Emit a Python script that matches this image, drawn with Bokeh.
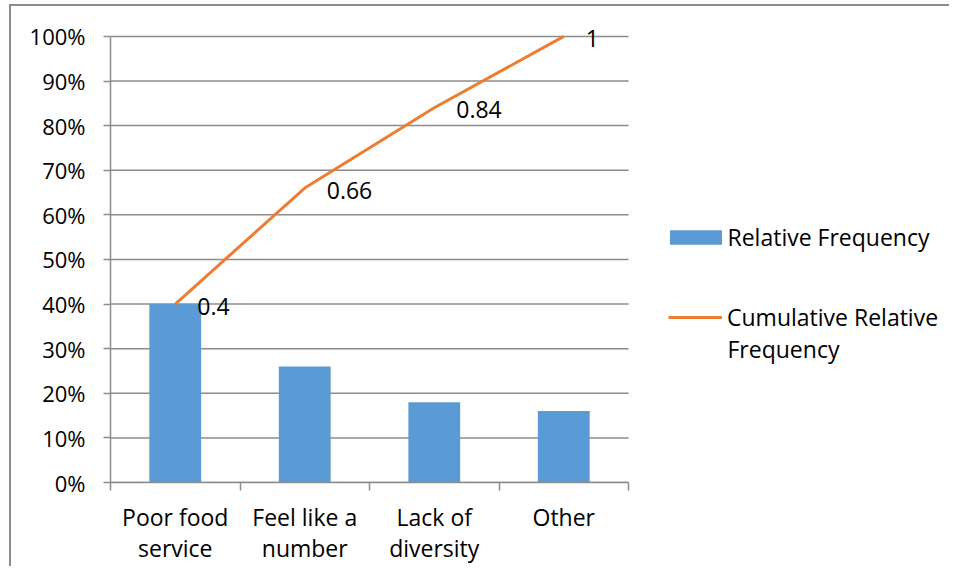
from bokeh.plotting import figure
from bokeh.models import (FixedTicker, Legend, LegendItem, Label, ColumnDataSource,
                          Range1d)
from bokeh.core.properties import value
from bokeh.embed import file_html
from bokeh.resources import INLINE

categories = ["Poor food\nservice", "Feel like a\nnumber", "Lack of\ndiversity", "Other"]
relative_freq = [0.40, 0.26, 0.18, 0.16]
cumulative_freq = [0.40, 0.66, 0.84, 1.00]
cum_labels = ["0.4", "0.66", "0.84", "1"]
y_ticks = [0.0, 0.1, 0.2, 0.3, 0.4, 0.5, 0.6, 0.7, 0.8, 0.9, 1.0]
y_tick_labels = ["0%", "10%", "20%", "30%", "40%", "50%", "60%", "70%", "80%", "90%", "100%"]

FONT = "Open Sans"
FS = "23px"
FS_Y = "22px"
BLUE = "#5B9BD5"
ORANGE = "#ED7D31"
GRID = "#8C8C8C"

xs = [i + 0.5 for i in range(len(categories))]
n = len(categories)

p = figure(width=940, height=562, output_backend="svg", toolbar_location=None,
           x_range=Range1d(0, 6.494), y_range=Range1d(0, 1.067),
           min_border_left=99, min_border_right=0, min_border_top=0,
           min_border_bottom=86)
p.styles = {"border-left": "2px solid #8C8C8C", "border-top": "2px solid #8C8C8C",
            "margin-left": "9px", "margin-top": "4px"}
p.outline_line_color = None
p.background_fill_color = "white"
p.border_fill_color = "white"

# horizontal gridlines limited to the category span
p.segment(x0=[0] * len(y_ticks), x1=[n] * len(y_ticks), y0=y_ticks, y1=y_ticks,
          line_color=GRID, line_width=1.5)

src = ColumnDataSource(dict(x=xs, rel=relative_freq, cum=cumulative_freq, lab=cum_labels))

bars = p.vbar(x="x", top="rel", width=0.4, bottom=0, source=src,
              fill_color=BLUE, line_color=None)
line = p.line(x="x", y="cum", source=src, line_color=ORANGE, line_width=3)
p.text(x="x", y="cum", text="lab", source=src, x_offset=22, y_offset=2,
       text_font=value(FONT), text_font_size=FS, text_color="black",
       text_align="left", text_baseline="middle")

# x axis: boundary ticks as minor ticks, labels at centres
xa = p.xaxis[0]
xa.bounds = (0, n)
xa.ticker = FixedTicker(ticks=xs, minor_ticks=list(range(n + 1)))
xa.major_label_overrides = {x: c for x, c in zip(xs, categories)}
xa.major_tick_out = 0
xa.major_tick_in = 0
xa.minor_tick_out = 8
xa.minor_tick_in = 0
xa.minor_tick_line_color = GRID
xa.minor_tick_line_width = 1.5
xa.axis_line_color = GRID
xa.axis_line_width = 1.5
xa.major_label_standoff = 10
xa.major_label_text_font = FONT
xa.major_label_text_font_size = FS
xa.major_label_text_color = "black"
xa.major_label_text_line_height = 0.99

ya = p.yaxis[0]
ya.bounds = (0, 1)
ya.ticker = FixedTicker(ticks=y_ticks)
ya.major_label_overrides = {t: l for t, l in zip(y_ticks, y_tick_labels)}
ya.major_tick_out = 7
ya.major_tick_in = 0
ya.minor_tick_out = 0
ya.minor_tick_in = 0
ya.major_tick_line_color = GRID
ya.major_tick_line_width = 1.5
ya.axis_line_color = GRID
ya.axis_line_width = 1.5
ya.major_label_standoff = 18
ya.major_label_text_font = FONT
ya.major_label_text_font_size = FS_Y
ya.major_label_text_color = "black"

p.xgrid.visible = False
p.ygrid.visible = False

def make_legend(label, renderer, loc, gw, gh, standoff):
    return Legend(items=[LegendItem(label=label, renderers=[renderer])], location=loc,
                  orientation="vertical", border_line_color=None,
                  background_fill_alpha=0, padding=0, margin=0,
                  glyph_width=gw, glyph_height=gh, label_standoff=standoff,
                  label_text_font=FONT, label_text_font_size=FS,
                  label_text_color="black", label_height=26)

p.add_layout(make_legend("Relative Frequency", bars, (552.5, 229), 65, 18, 0), "center")
p.add_layout(make_legend("Cumulative Relative", line, (558, 149), 54, 14, 5), "center")
p.add_layout(Label(x=617, y=134, x_units="screen", y_units="screen", text="Frequency",
                   text_font=FONT, text_font_size=FS, text_color="black",
                   text_baseline="middle"))

open("out.html", "w").write(file_html(p, INLINE))
